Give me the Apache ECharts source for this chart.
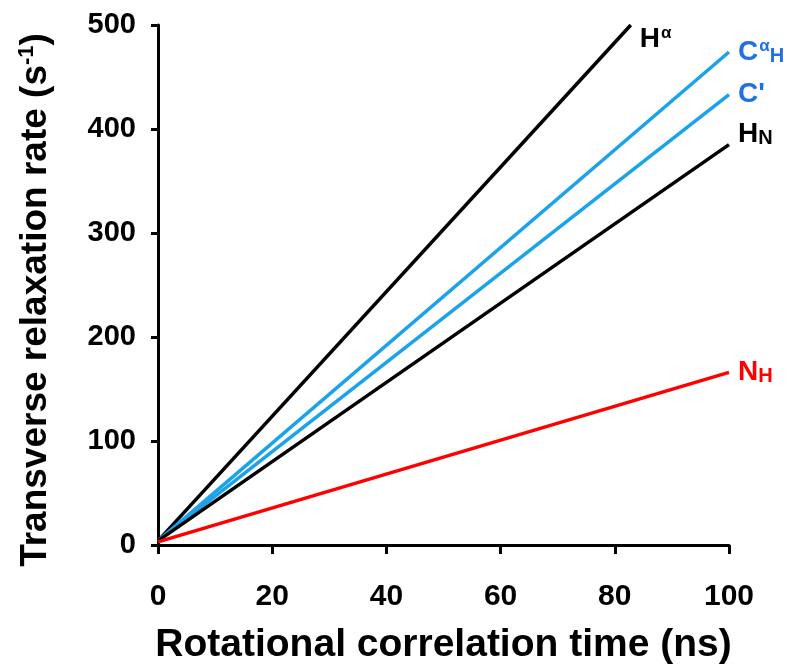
<!DOCTYPE html>
<html><head><meta charset="utf-8">
<script src="https://cdn.jsdelivr.net/npm/echarts@6/dist/echarts.min.js"></script>
<style>html,body{margin:0;padding:0;background:#fff}#c{width:790px;height:666px}</style>
</head><body><div id="c"></div>
<script>
const xTicks = [0, 20, 40, 60, 80, 100];
const yTicks = [0, 100, 200, 300, 400, 500];
const seriesNames = ['Hα', 'CαH', "C'", 'HN', 'NH'];
const Halpha = [[0, 4], [82.8, 500]];
const CalphaH = [[0, 4], [100, 474]];
const Cprime = [[0, 4], [100, 433]];
const HN = [[0, 4], [100, 385]];
const NH = [[0, 3], [100, 166]];

const FONT = '"Liberation Sans", Arial, sans-serif';
const BLUE = '#1aa3ea', BLUE_T = '#1f6fe8';
const lbl = (fmt, color, rich) => ({
  show: true, formatter: fmt, color: color, fontFamily: FONT, fontWeight: 'bold',
  fontSize: 28, distance: 9, rich: rich
});
const richFor = (c) => ({
  b: {fontSize: 28, fontWeight: 'bold', color: c, fontFamily: FONT},
  sup: {fontSize: 17, fontWeight: 'bold', color: c, fontFamily: FONT, verticalAlign: 'top', padding: [0, 0, 12, 1]},
  sub: {fontSize: 20, fontWeight: 'bold', color: c, fontFamily: FONT, verticalAlign: 'bottom', padding: [6, 0, 0, 0]}
});
const mk = (name, data, color, labelColor, fmt, offset) => ({
  name: name, type: 'line', data: data, showSymbol: false, symbol: 'none',
  lineStyle: {color: color, width: 3.5}, itemStyle: {color: color},
  endLabel: Object.assign(lbl(fmt, labelColor, richFor(labelColor)), {offset: offset || [0, 0]}),
  animation: false, z: 3
});
const chart = echarts.init(document.getElementById('c'));
chart.setOption({
  backgroundColor: '#fff',
  grid: {left: 158, right: 61, top: 25, bottom: 121, containLabel: false, outerBoundsMode: 'none'},
  xAxis: {
    type: 'value', min: xTicks[0], max: xTicks[xTicks.length - 1], interval: 20,
    name: 'Rotational correlation time (ns)', nameLocation: 'middle', nameGap: 81,
    nameTextStyle: {fontFamily: FONT, fontWeight: 'bold', fontSize: 39, color: '#000'},
    axisLine: {lineStyle: {color: '#000', width: 3}},
    axisTick: {length: 9, lineStyle: {color: '#000', width: 3}},
    axisLabel: {fontFamily: FONT, fontWeight: 'bold', fontSize: 30, color: '#000', margin: 37},
    splitLine: {show: false}
  },
  yAxis: {
    type: 'value', min: yTicks[0], max: yTicks[yTicks.length - 1], interval: 100,
    name: '{t|Transverse relaxation rate (s}{s|-1}{t|)}', nameLocation: 'middle', nameGap: 102, nameRotate: 90,
    nameTextStyle: {padding: [0, 30, 0, 0], rich: {
      t: {fontFamily: FONT, fontWeight: 'bold', fontSize: 37, color: '#000'},
      s: {fontFamily: FONT, fontWeight: 'bold', fontSize: 22, color: '#000', verticalAlign: 'top', padding: [0, 0, 18, 0]}
    }},
    axisLine: {show: true, lineStyle: {color: '#000', width: 3}},
    axisTick: {show: true, length: 7, lineStyle: {color: '#000', width: 3}},
    axisLabel: {fontFamily: FONT, fontWeight: 'bold', fontSize: 29, color: '#000', margin: 22},
    splitLine: {show: false}
  },
  series: [
    mk(seriesNames[0], Halpha, '#000', '#000', '{b|H}{sup|α}', [0, 14]),
    mk(seriesNames[1], CalphaH, BLUE, BLUE_T, '{b|C}{sup|α}{sub|H}', [0, 0]),
    mk(seriesNames[2], Cprime, BLUE, BLUE_T, "{b|C'}", [0, 0]),
    mk(seriesNames[3], HN, '#000', '#000', '{b|H}{sub|N}', [0, -10]),
    mk(seriesNames[4], NH, '#ff0000', '#ff0000', '{b|N}{sub|H}', [0, 0])
  ]
});
</script></body></html>
